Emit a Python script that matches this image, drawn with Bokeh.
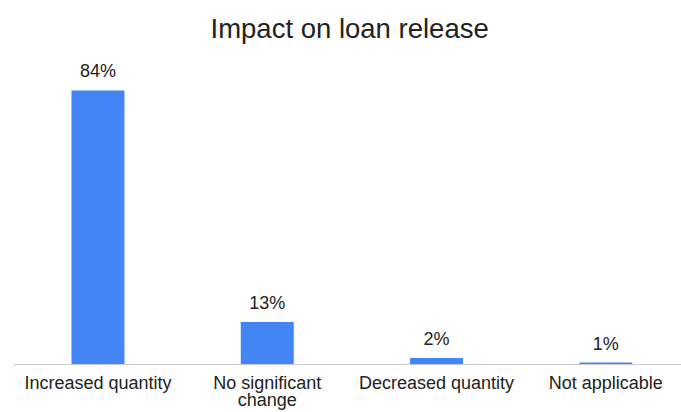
from bokeh.plotting import figure
from bokeh.models import ColumnDataSource, Range1d, Span
from bokeh.core.properties import value
from bokeh.embed import file_html
from bokeh.resources import INLINE

categories = ["Increased quantity", "No significant\nchange", "Decreased quantity", "Not applicable"]
values = [84, 13, 2, 0.6]
value_labels = ["84%", "13%", "2%", "1%"]

BLUE = "#4285F4"
FONT = "Liberation Sans"

xs = list(range(len(categories)))
src = ColumnDataSource(dict(x=xs, top=values, label=value_labels,
                            cat=categories, base=[0] * len(xs)))

p = figure(width=681, height=412, output_backend="svg", toolbar_location=None,
           x_range=Range1d(-0.499, 3.447), y_range=Range1d(-14.71, 96.87),
           title="Impact on loan release",
           min_border_left=13, min_border_right=0, min_border_top=48, min_border_bottom=0)

p.vbar(x="x", top="top", width=0.313, source=src, color=BLUE, line_color=None)
p.add_layout(Span(location=0, dimension="width", line_color="#cccccc", line_width=1))

# value labels above bars
p.text(x="x", y="top", text="label", source=src, y_offset=-19,
       text_align="center", text_baseline="alphabetic",
       text_font=value(FONT), text_font_size="18px", text_color="#222222")

# category labels under the baseline
p.text(x="x", y="base", text="cat", source=src, y_offset=8,
       text_align="center", text_baseline="top", text_line_height=0.88,
       text_font=value(FONT), text_font_size="18px", text_color="#222222")

p.title.align = "left"
p.title.offset = 197
p.title.text_font = FONT
p.title.text_font_size = "27.5px"
p.title.text_font_style = "normal"
p.title.text_color = "#222222"

p.xaxis.visible = False
p.yaxis.visible = False
p.xgrid.visible = False
p.ygrid.visible = False
p.outline_line_color = None
p.background_fill_color = "white"
p.border_fill_color = "white"

open("out.html", "w").write(file_html(p, INLINE))
